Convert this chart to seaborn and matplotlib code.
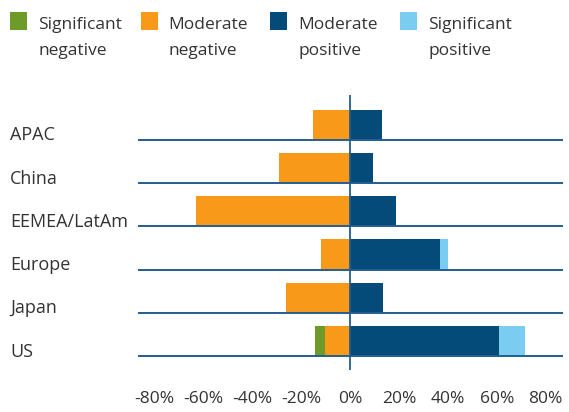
import matplotlib
matplotlib.use("Agg")
import matplotlib.pyplot as plt
from matplotlib.patches import Rectangle
import seaborn as sns
import pandas as pd

# Regional sentiment shares (%)
regions = ["APAC", "China", "EEMEA/LatAm", "Europe", "Japan", "US"]
significant_negative = [0, 0, 0, 0, 0, 4.1]
moderate_negative = [15.1, 29.0, 63.0, 11.9, 26.2, 10.2]
moderate_positive = [13.1, 9.4, 18.8, 36.8, 13.5, 60.9]
significant_positive = [0, 0, 0, 3.3, 0, 10.6]
x_ticks = [-80, -60, -40, -20, 0, 20, 40, 60, 80]

legend_labels = ["Significant\nnegative", "Moderate\nnegative",
                 "Moderate\npositive", "Significant\npositive"]
colors = ["#6E9A29", "#F8991A", "#044B7A", "#7ACDF0"]
text_color = "#333333"
line_color = "#235E91"

sns.set_theme(style="white")
plt.rcParams["font.family"] = ["Open Sans", "DejaVu Sans"]
FS = 12.5

df = pd.DataFrame({
    "region": regions,
    "neg_total": [-(a + b) for a, b in zip(significant_negative, moderate_negative)],
    "neg_mod": [-b for b in moderate_negative],
    "pos_total": [a + b for a, b in zip(moderate_positive, significant_positive)],
    "pos_mod": moderate_positive,
})

W, H = 569, 412
fig = plt.figure(figsize=(W / 100, H / 100), dpi=100)
ax = fig.add_axes([138 / W, 1 - 370 / H, 425 / W, 275 / H])

# Stacked diverging bars: totals first, inner segments layered on top
for col, c in [("neg_total", colors[0]), ("neg_mod", colors[1]),
               ("pos_total", colors[3]), ("pos_mod", colors[2])]:
    sns.barplot(data=df, x=col, y="region", orient="h", color=c,
                width=0.7, saturation=1, ax=ax, linewidth=0)

n = len(regions)
for i in range(n):
    ax.axhline(i + 0.35, color=line_color, lw=1.4, zorder=3)
ax.axvline(0, color=line_color, lw=1.3, zorder=4)

ax.set_xlim(-86.7, 87.1)
ax.set_ylim(n - 1 + 0.67, -0.69)
ax.set_xticks(x_ticks)
ax.set_xticklabels([f"{v}%" for v in x_ticks])
ax.set_yticks([i + 0.2 for i in range(n)])
ax.set_yticklabels(regions)
ax.set_xlabel("")
ax.set_ylabel("")
for s in ax.spines.values():
    s.set_visible(False)
ax.tick_params(axis="x", length=0, pad=15, labelsize=FS, labelcolor=text_color)
ax.tick_params(axis="y", length=0, pad=92, labelsize=13, labelcolor=text_color)
for lab in ax.get_yticklabels():
    lab.set_ha("left")

# Legend across the top: colour square plus a two-line label
sq_x = [10, 141, 270, 400]
tx_x = [38, 168, 298, 428]
for sx, tx, c, lab in zip(sq_x, tx_x, colors, legend_labels):
    fig.add_artist(Rectangle((sx / W, 1 - 30 / H), 17 / W, 18 / H,
                             transform=fig.transFigure, color=c, lw=0))
    for line, base in zip(lab.split("\n"), [29, 55]):
        fig.text(tx / W, 1 - base / H, line, ha="left", va="baseline",
                 fontsize=FS, color=text_color)

fig.savefig("out.png", dpi=100)
